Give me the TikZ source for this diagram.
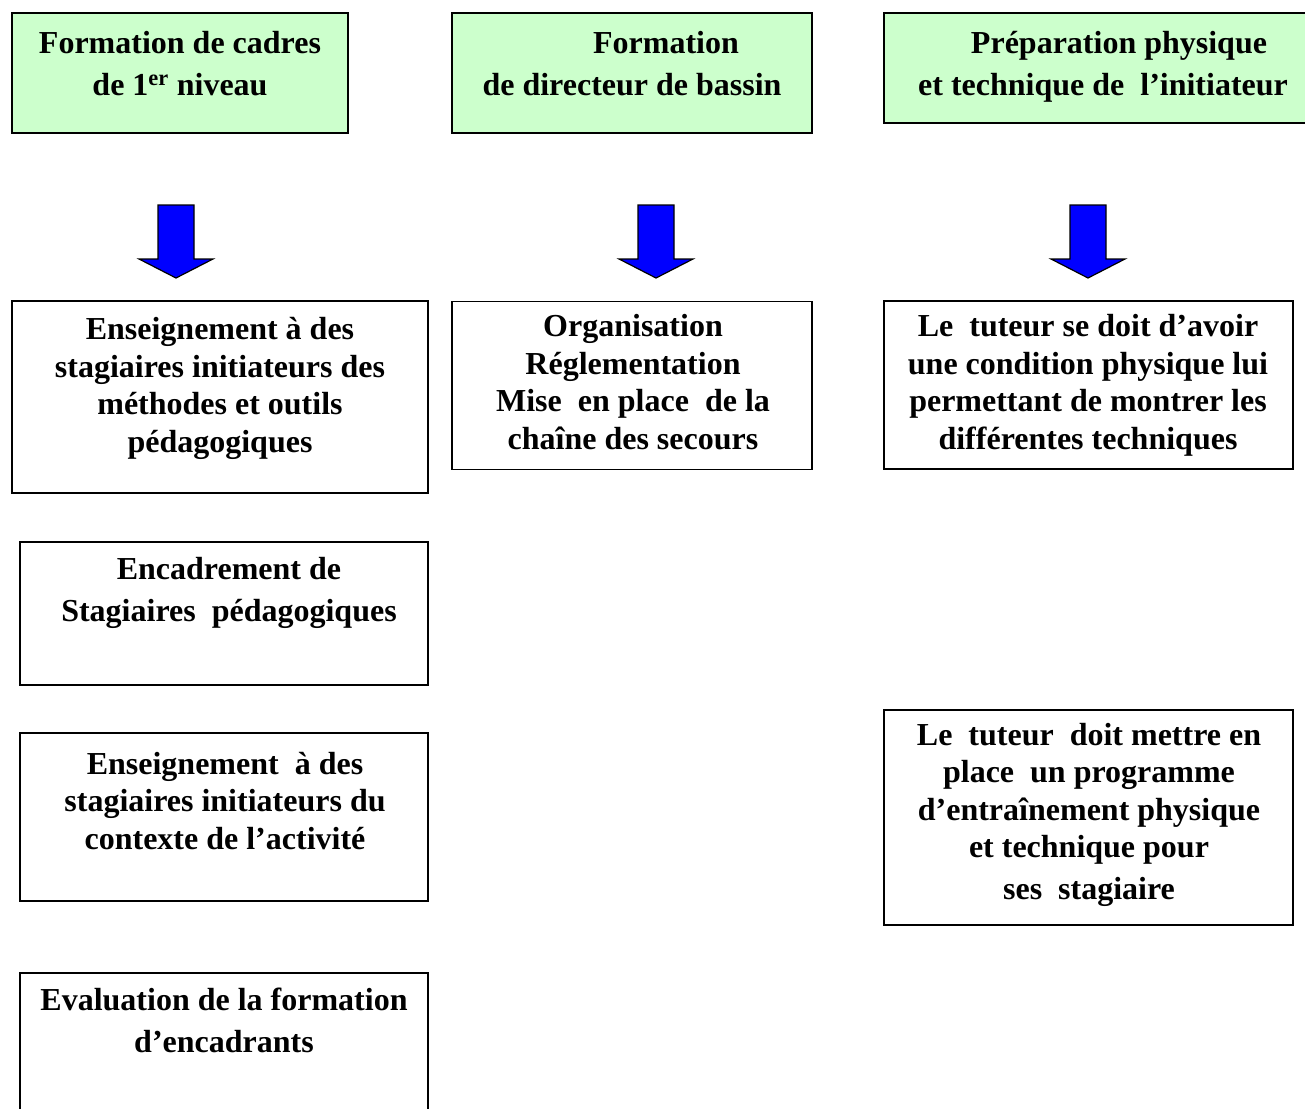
\documentclass[tikz,border=0pt]{standalone}
\usepackage{fontspec}
\setmainfont{Liberation Serif}
\definecolor{boxgreen}{HTML}{CCFFCC}
\definecolor{arrowblue}{HTML}{0000FF}

\begin{document}
\begin{tikzpicture}[x=1pt, y=-1pt,
    box/.style={draw=black, line width=1.4pt, rectangle, inner sep=0pt},
    greenbox/.style={box, fill=boxgreen},
    boxtext/.style={font=\bfseries\fontsize{32}{37.5}\selectfont, align=center, anchor=base, inner sep=0pt},
    toptext/.style={boxtext, font=\bfseries\fontsize{32}{42}\selectfont},
    blockarrow/.style={draw=black, line width=1.2pt, fill=arrowblue, line join=miter}]
    \useasboundingbox (0,0) rectangle (1305,1108);
    % top row (text nodes sit on the baseline of their last line)
    \node (cadres) [greenbox, minimum width=336pt, minimum height=120pt] at (180,73) {};
    \node (bassin) [greenbox, minimum width=360pt, minimum height=120pt] at (632,73) {};
    \node (initiateur) [greenbox, minimum width=446pt, minimum height=110pt] at (1107,68) {};
    \node (cadresT) [toptext] at (180,95) {Formation de cadres\\de 1\textsuperscript{er} niveau};
    \node (bassinT) [toptext] at (632,95) {\hspace*{68pt}Formation\\de directeur de bassin};
    \node (initiateurT) [toptext] at (1103,95) {\hspace*{32pt}Préparation physique\\et technique de~ l’initiateur};
    % arrows
    \foreach \cx in {176, 656, 1088}{
      \draw[blockarrow] ({\cx-18},205) -- ({\cx+18},205) -- ({\cx+18},259) -- ({\cx+37},259)
        -- (\cx,278) -- ({\cx-37},259) -- ({\cx-18},259) -- cycle;
    }
    % second row
    \node (methodes) [box, minimum width=416pt, minimum height=192pt] at (220,397) {};
    \node (secours) [box, minimum width=360pt, minimum height=168pt] at (632,385.5) {};
    \node (condition) [box, minimum width=409pt, minimum height=168pt] at (1088.5,385) {};
    \node (methodesT) [boxtext] at (220,452) {Enseignement à des\\stagiaires initiateurs des\\méthodes et outils\\pédagogiques};
    \node (secoursT) [boxtext] at (633,449) {Organisation\\Réglementation\\Mise~ en place~ de la\\chaîne des secours};
    \node (conditionT) [boxtext] at (1088,449) {Le~ tuteur se doit d’avoir\\une condition physique lui\\permettant de montrer les\\différentes techniques};
    % left column
    \node (encadrement) [box, minimum width=408pt, minimum height=143pt] at (224,613.5) {};
    \node (encadrementT) [toptext] at (229,621) {Encadrement de\\Stagiaires~ pédagogiques};
    \node (contexte) [box, minimum width=408pt, minimum height=168pt] at (224,817) {};
    \node (contexteT) [boxtext] at (225,849) {Enseignement~ à des\\stagiaires initiateurs du\\contexte de l’activité};
    \node (evaluation) [box, minimum width=408pt, minimum height=157pt] at (224,1051.5) {};
    \node (evaluationT) [toptext] at (224,1052) {Evaluation de la formation\\d’encadrants};
    % right column
    \node (programme) [box, minimum width=409pt, minimum height=215pt] at (1088.5,817.5) {};
    \node (programmeT) [boxtext] at (1089,899) {Le~ tuteur~ doit mettre en\\place~ un programme\\d’entraînement physique\\et technique pour\\[4pt]ses~ stagiaire};
\end{tikzpicture}
\end{document}
